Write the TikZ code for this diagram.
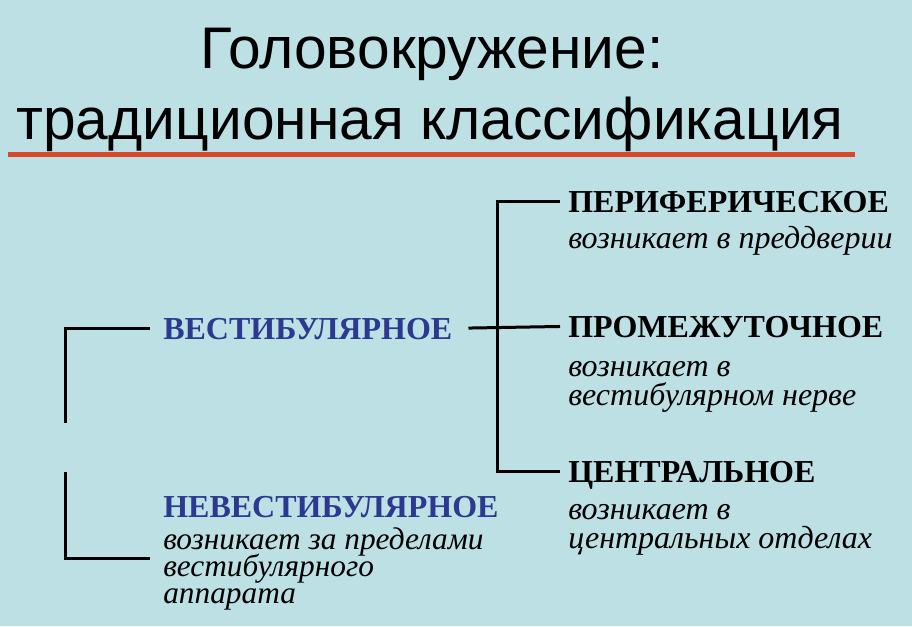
\documentclass[tikz,border=0pt]{standalone}
\usepackage{fontspec}
\setmainfont{Liberation Serif}
\newfontfamily\titlefont{Liberation Sans}
\usetikzlibrary{positioning}

\definecolor{slidebg}{RGB}{188,224,228}
\definecolor{headblue}{RGB}{43,57,144}
\definecolor{rulered}{RGB}{216,72,42}

\tikzset{
  titletext/.style={font=\titlefont\fontsize{44}{54}\selectfont, inner sep=0pt, anchor=base},
  head/.style={font=\fontsize{24}{28}\selectfont\bfseries, inner sep=0pt, anchor=base west,
    text height=16pt, text depth=0pt},
  note/.style={font=\fontsize{24}{21.75}\selectfont\itshape, inner sep=0pt, align=left},
  link/.style={line width=2.25pt},
}

\begin{document}
\setlength{\lineskiplimit}{-20pt}
\begin{tikzpicture}[x=0.75pt, y=-0.75pt]
\fill[slidebg] (0,0) rectangle (912,626);
\useasboundingbox (0,0) rectangle (912,626);

% title
\node[titletext] (title) at (432,68) {Головокружение:};
\node[titletext] (subtitle) at (430,139) {традиционная классификация};
\draw[rulered, line width=3.75pt] (8,154) -- (855,154);

% left column
\node[head, headblue] (vest) at (163,339) {ВЕСТИБУЛЯРНОЕ};
\node[head, headblue] (nevest) at (163,517) {НЕВЕСТИБУЛЯРНОЕ};
\node[note, font=\fontsize{23.5}{20.25}\selectfont\itshape,
  below=64.5pt of nevest.base west, anchor=base west] (nevestnote)
{возникает за пределами\\вестибулярного\\аппарата};

% right column
\node[head] (peri) at (568,212) {ПЕРИФЕРИЧЕСКОЕ};
\node[note, below=27pt of peri.base west, anchor=base west] (perinote)
{возникает в преддверии};
\node[head] (prom) at (568,337) {ПРОМЕЖУТОЧНОЕ};
\node[note, below=51pt of prom.base west, anchor=base west] (promnote)
{возникает в\\вестибулярном нерве};
\node[head] (centr) at (568,482) {ЦЕНТРАЛЬНОЕ};
\node[note, below=49.5pt of centr.base west, anchor=base west] (centrnote)
{возникает в\\центральных отделах};

% brackets
\coordinate (vtop) at (65,423);
\coordinate (ntop) at (65,472);
\coordinate (nend) at (150,558);
\coordinate (fork) at (497,327);
\draw[link, shorten >=9.75pt] (vtop) |- (vest.west);
\draw[link] (ntop) |- (nend);
\draw[link, shorten <=12pt, shorten >=6pt] (vest.east) -- (prom.west);
\draw[link, shorten <=6pt, shorten >=6pt] (peri.west) -| (fork) |- (centr.west);
\end{tikzpicture}
\end{document}
